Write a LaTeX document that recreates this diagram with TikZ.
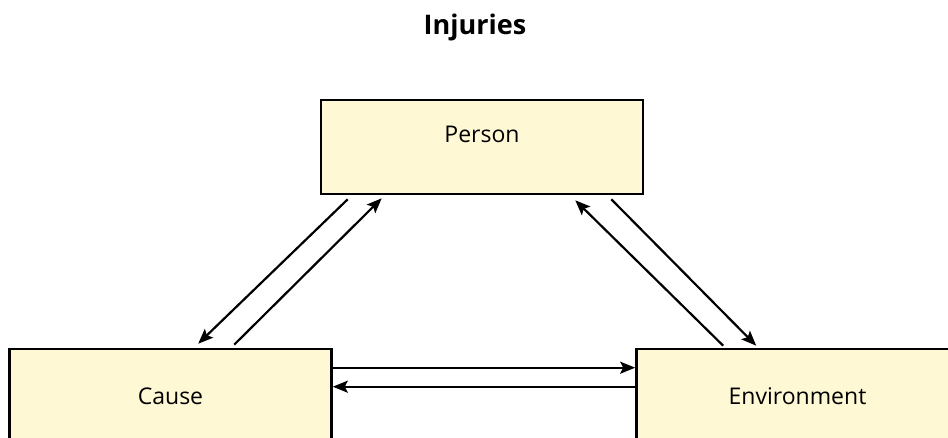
\documentclass[tikz,border=0pt]{standalone}
\usepackage{fontspec}
\setmainfont{Open Sans}
\usetikzlibrary{arrows.meta}
\definecolor{boxfill}{HTML}{FFF8D4}

\begin{document}
\begin{tikzpicture}
        [x=1pt, y=1pt,
         box/.style={draw=black, line width=2.6pt, fill=boxfill, minimum width=322pt, minimum height=94pt, inner sep=0, font=\fontsize{23}{27}\selectfont},
         link/.style={line width=2.2pt, -{Stealth[length=15pt, width=12pt, inset=3pt]}}]

        \useasboundingbox (0,0) rectangle (948,437);
        \clip (0,0) rectangle (948,437);

        \node[font=\bfseries\fontsize{27}{32}\selectfont, anchor=base] (title) at (475, 402) {Injuries};

        \node[box, text height=17pt, text depth=25pt] (person) at (482, 290) {Person};
        \node[box] (cause) at (170.5, 41) {Cause};
        \node[box] (environment) at (797.5, 41) {Environment};

        \draw[link] ([xshift=28pt, yshift=-4pt]person.south west) -- ([xshift=190pt, yshift=4pt]cause.north west);
        \draw[link] ([xshift=226pt, yshift=3pt]cause.north west) -- ([xshift=62pt, yshift=-3pt]person.south west);
        \draw[link] ([xshift=88pt, yshift=2pt]environment.north west) -- ([xshift=-69pt, yshift=-5pt]person.south east);
        \draw[link] ([xshift=-33pt, yshift=-4pt]person.south east) -- ([xshift=121pt, yshift=2pt]environment.north west);
        \draw[link] ([yshift=-20pt]cause.north east) -- ([yshift=-20pt]environment.north west);
        \draw[link] ([yshift=-39pt]environment.north west) -- ([yshift=-39pt]cause.north east);
      \end{tikzpicture}
\end{document}
